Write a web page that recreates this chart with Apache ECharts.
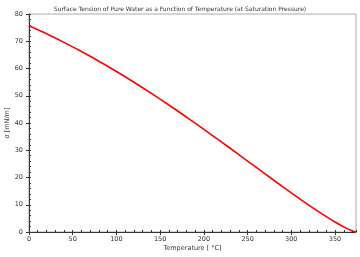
<!DOCTYPE html>
<html><head><meta charset="utf-8">
<script src="https://cdn.jsdelivr.net/npm/echarts@6/dist/echarts.min.js"></script>
<style>html,body{margin:0;padding:0;background:#fff}#c{width:360px;height:257px}</style>
</head><body><div id="c"></div>
<script>
const titleText = 'Surface Tension of Pure Water as a Function of Temperature (at Saturation Pressure)';
const xName = 'Temperature [ °C]';
const yName = 'σ [mN/m]';
const temps = [0, 20, 40, 60, 80, 100, 120, 140, 160, 180, 200, 220, 240, 260, 280, 300, 320, 340, 350, 360, 370, 373.946];
const sigma = [75.65, 72.74, 69.60, 66.24, 62.68, 58.92, 54.97, 50.86, 46.60, 42.19, 37.68, 33.07, 28.39, 23.69, 18.99, 14.36, 9.86, 5.63, 3.66, 1.88, 0.39, 0];
const xMin = 0, xMax = 374, xStep = 50;
const yMin = 0, yMax = 80, yStep = 10;

const font = 'DejaVu Sans';
const txt = '#333';
const chart = echarts.init(document.getElementById('c'), null, {renderer: 'canvas'});
const grid = {left: 29, right: 4, top: 14, bottom: 25, containLabel: false, outerBoundsMode: 'none',
  show: true, borderColor: '#aaa', borderWidth: 1, backgroundColor: 'transparent'};
const baseX = {type: 'value', min: xMin, max: xMax, interval: xStep, splitLine: {show: false}};
const baseY = {type: 'value', min: yMin, max: yMax, interval: yStep, splitLine: {show: false}};
chart.setOption({
  animation: false,
  title: {text: titleText, left: 'center', top: 1, textStyle: {fontFamily: font, fontSize: 6, fontWeight: 'normal', color: txt}},
  grid: grid,
  xAxis: [
    Object.assign({}, baseX, {
      name: xName, nameLocation: 'middle', nameGap: 13, nameMoveOverlap: false,
      nameTextStyle: {fontFamily: font, fontSize: 6.5, color: txt},
      axisLine: {lineStyle: {color: '#333', width: 1}},
      axisTick: {show: true, length: 3, lineStyle: {color: '#333'}},
      axisLabel: {fontFamily: font, fontSize: 6.5, color: txt, margin: 4, showMaxLabel: false},
    }),
    Object.assign({}, baseX, {
      position: 'bottom',
      axisLine: {show: false},
      axisTick: {show: true, inside: true, length: 2, lineStyle: {color: '#333'}},
      minorTick: {show: true, splitNumber: 5, length: 2, lineStyle: {color: '#333'}},
      axisLabel: {show: false}
    })
  ],
  yAxis: [
    Object.assign({}, baseY, {
      name: yName, nameLocation: 'middle', nameGap: 18, nameMoveOverlap: false,
      nameTextStyle: {fontFamily: font, fontSize: 6.5, color: txt},
      axisLine: {show: true, lineStyle: {color: '#333', width: 1}},
      axisTick: {show: true, length: 3, lineStyle: {color: '#333'}},
      axisLabel: {fontFamily: font, fontSize: 6.5, color: txt, margin: 6}
    }),
    Object.assign({}, baseY, {
      position: 'left',
      axisLine: {show: false},
      axisTick: {show: true, inside: true, length: 2, lineStyle: {color: '#333'}},
      minorTick: {show: true, splitNumber: 5, length: 2, lineStyle: {color: '#333'}},
      axisLabel: {show: false}
    })
  ],
  series: [{
    type: 'line', xAxisIndex: 0, yAxisIndex: 0,
    data: temps.map((t, i) => [t, sigma[i]]),
    showSymbol: false, smooth: 0.2, clip: false,
    lineStyle: {color: '#ff0000', width: 1.6}
  }]
});
</script></body></html>
